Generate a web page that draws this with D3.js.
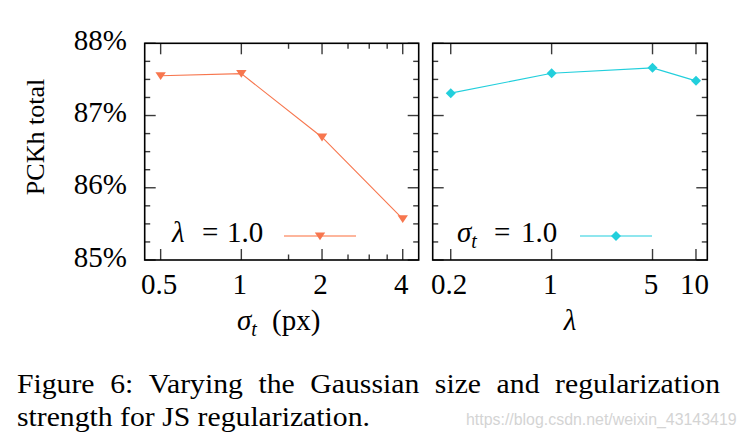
<!DOCTYPE html>
<html>
<head>
<meta charset="utf-8">
<script src="https://cdn.jsdelivr.net/npm/d3@7"></script>
<style>
  html, body { margin: 0; padding: 0; background: #fff; }
  svg { display: block; }
  text { font-family: "Liberation Serif", "Times New Roman", serif; fill: #000; }
</style>
</head>
<body>
<svg id="chart" width="747" height="438"></svg>
<script>
// ---------- data ----------
const sigmaValues = [0.5, 1, 2, 4];
const sigmaPCKh   = [87.55, 87.58, 86.70, 85.57];
const lambdaValues = [0.2, 1, 5, 10];
const lambdaPCKh   = [87.31, 87.585, 87.66, 87.48];

const yTickValues = [85, 86, 87, 88];
const yTickLabels = ["85%", "86%", "87%", "88%"];
const yMinorTickValues = [85.25, 85.5, 85.75, 86.25, 86.5, 86.75, 87.25, 87.5, 87.75];
const sigmaTickValues = [0.5, 1, 2, 4];
const sigmaTickLabels = ["0.5", "1", "2", "4"];
const sigmaMinorTickValues = [1.5, 2.5, 3, 3.5];
const lambdaTickValues = [0.2, 1, 5, 10];
const lambdaTickLabels = ["0.2", "1", "5", "10"];

const captionLine1 = "Figure 6: Varying the Gaussian size and regularization";
const captionLine2 = "strength for JS regularization.";
const watermark = "https://blog.csdn.net/weixin_43143419";

// ---------- layout ----------
const plotTop = 43.3, plotBottom = 260;
const orange = "#f7764e", orangeLight = "#fdb59c";
const cyan = "#22cfdc", cyanLight = "#8fe6ee";
const svg = d3.select("#chart");
const FS = 29;

const y = d3.scaleLinear().domain([85, 88]).range([plotBottom, plotTop]);

const panels = [
  {
    x0: 144.7, x1: 418.7, domain: [0.436, 4.588],
    xs: sigmaValues, ys: sigmaPCKh, ticks: sigmaTickValues, labels: sigmaTickLabels,
    minor: sigmaMinorTickValues, color: orange, light: orangeLight, marker: "tri",
    legendLine: [284, 356], showY: true
  },
  {
    x0: 432.7, x1: 707.3, domain: [0.150, 11.98],
    xs: lambdaValues, ys: lambdaPCKh, ticks: lambdaTickValues, labels: lambdaTickLabels,
    minor: [], color: cyan, light: cyanLight, marker: "dia",
    legendLine: [580, 652], showY: false
  }
];

const majorLen = 11, minorLen = 5.5;
const tickColor = "#3a3a3a";

function markerPath(kind) {
  if (kind === "tri") return "M-5.2,-3.6L5.2,-3.6L0,4.2Z";
  return d3.symbol().type(d3.symbolSquare).size(50)();
}
function markerTransform(kind, px, py) {
  return kind === "tri" ? `translate(${px},${py})` : `translate(${px},${py}) rotate(45)`;
}

panels.forEach((p, i) => {
  const x = d3.scaleLog().domain(p.domain).range([p.x0, p.x1]);
  const g = svg.append("g");

  const yAll = yTickValues.map(v => ({ v, len: majorLen })).concat(yMinorTickValues.map(v => ({ v, len: minorLen })));
  g.selectAll(".ytl").data(yAll).join("line")
    .attr("x1", p.x0).attr("x2", d => p.x0 + d.len)
    .attr("y1", d => y(d.v)).attr("y2", d => y(d.v))
    .attr("stroke", tickColor).attr("stroke-width", 1.4);
  g.selectAll(".ytr").data(yAll).join("line")
    .attr("x1", p.x1).attr("x2", d => p.x1 - d.len)
    .attr("y1", d => y(d.v)).attr("y2", d => y(d.v))
    .attr("stroke", tickColor).attr("stroke-width", 1.4);

  const xAll = p.ticks.map(v => ({ v, len: majorLen })).concat(p.minor.map(v => ({ v, len: minorLen })));
  g.selectAll(".xtb").data(xAll).join("line")
    .attr("x1", d => x(d.v)).attr("x2", d => x(d.v))
    .attr("y1", plotBottom).attr("y2", d => plotBottom - d.len)
    .attr("stroke", tickColor).attr("stroke-width", 1.4);
  g.selectAll(".xtt").data(xAll).join("line")
    .attr("x1", d => x(d.v)).attr("x2", d => x(d.v))
    .attr("y1", plotTop).attr("y2", d => plotTop + d.len)
    .attr("stroke", tickColor).attr("stroke-width", 1.4);

  g.append("rect").attr("x", p.x0).attr("y", plotTop)
    .attr("width", p.x1 - p.x0).attr("height", plotBottom - plotTop)
    .attr("fill", "none").attr("stroke", "#000").attr("stroke-width", 1.6);

  g.selectAll(".xl").data(p.ticks).join("text")
    .attr("x", d => x(d) - 1.5).attr("y", 294)
    .attr("text-anchor", "middle").attr("font-size", FS)
    .text((d, k) => p.labels[k]);

  if (p.showY) {
    g.selectAll(".yl").data(yTickValues).join("text")
      .attr("x", 127).attr("y", d => y(d) + 6.5)
      .attr("text-anchor", "end").attr("font-size", FS)
      .text((d, k) => yTickLabels[k]);
  }

  const pts = p.xs.map((v, k) => [v, p.ys[k]]);
  g.append("path").datum(pts)
    .attr("d", d3.line().x(d => x(d[0])).y(d => y(d[1])))
    .attr("fill", "none").attr("stroke", p.color).attr("stroke-width", 1.1);
  g.selectAll(".mk").data(pts).join("path")
    .attr("d", markerPath(p.marker))
    .attr("transform", d => markerTransform(p.marker, x(d[0]), y(d[1])))
    .attr("fill", p.color);

  const ly = 236;
  g.append("line").attr("x1", p.legendLine[0]).attr("x2", p.legendLine[1])
    .attr("y1", ly).attr("y2", ly).attr("stroke", p.light).attr("stroke-width", 2.2);
  g.append("path").attr("d", markerPath(p.marker))
    .attr("transform", markerTransform(p.marker, (p.legendLine[0] + p.legendLine[1]) / 2, ly))
    .attr("fill", p.color);

  const lt = g.append("text").attr("y", 242).attr("font-size", FS);
  if (i === 0) {
    lt.append("tspan").attr("x", 172).attr("font-style", "italic").text("λ");
    lt.append("tspan").attr("x", 202).text("=");
    lt.append("tspan").attr("x", 227).text("1.0");
  } else {
    lt.append("tspan").attr("x", 457).attr("font-style", "italic").text("σ");
    lt.append("tspan").attr("font-style", "italic").attr("font-size", 20).attr("dy", 6).text("t");
    lt.append("tspan").attr("x", 494).attr("dy", -6).text("=");
    lt.append("tspan").attr("x", 521).text("1.0");
  }

  const xt = g.append("text").attr("y", 330).attr("font-size", FS);
  if (i === 0) {
    xt.append("tspan").attr("x", 237).attr("font-style", "italic").text("σ");
    xt.append("tspan").attr("font-style", "italic").attr("font-size", 20).attr("dy", 6).text("t");
    xt.append("tspan").attr("x", 272).attr("dy", -6).text("(px)");
  } else {
    xt.attr("x", (p.x0 + p.x1) / 2).attr("text-anchor", "middle")
      .append("tspan").attr("font-style", "italic").text("λ");
  }
});

svg.append("text")
  .attr("transform", "translate(44,137) rotate(-90)")
  .attr("text-anchor", "middle").attr("font-size", 26)
  .text("PCKh total");

const capLeft = 17, capRight = 720, capFS = 27;
const cap = svg.append("g");
const l2 = cap.append("text").attr("x", 0).attr("y", 426).attr("font-size", capFS).text(captionLine2);
const nat2 = l2.node().getComputedTextLength();
const k = 353 / nat2;
l2.attr("transform", `translate(${capLeft},0) scale(${k},1)`);

const words = captionLine1.split(" ");
const wg = cap.append("g").attr("transform", `translate(${capLeft},0) scale(${k},1)`);
const wEls = words.map(w => wg.append("text").attr("y", 393).attr("font-size", capFS).text(w));
const widths = wEls.map(e => e.node().getComputedTextLength());
const total = d3.sum(widths);
const avail = (capRight - capLeft) / k;
const gap = (avail - total) / (words.length - 1);
let cx = 0;
wEls.forEach((e, j) => { e.attr("x", cx); cx += widths[j] + gap; });

const wm = svg.append("text").attr("x", 466).attr("y", 425)
  .attr("font-size", 16)
  .style("font-family", "'Liberation Sans', Arial, sans-serif")
  .style("fill", "#d4d4d4")
  .text(watermark);
const wmLen = wm.node().getComputedTextLength();
wm.attr("font-size", 16 * 271 / wmLen);
</script>
</body>
</html>
